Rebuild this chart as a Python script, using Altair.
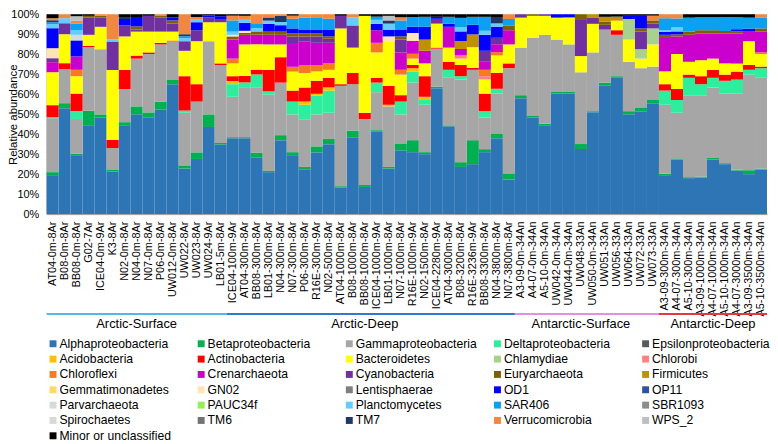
import altair as alt
import pandas as pd

N = 60

def at(d):
    return [d.get(i, 0) for i in range(N)]

samples = [
    "AT04-0m-8Ar", "B08-0m-8Ar", "BB08-0m-8Ar", "G02-7Ar", "ICE04-0m-9Ar", "K3-8Ar", "N02-0m-8Ar",
    "N04-0m-8Ar", "N07-0m-8Ar", "P06-0m-8Ar", "UW012-0m-8Ar", "UW022-8Ar", "UW023-8Ar", "UW024-9Ar",
    "LB01-5m-8Ar",
    "ICE04-100m-9Ar", "AT04-300m-8Ar", "BB08-300m-8Ar", "LB01-300m-8Ar", "N04-300m-8Ar", "N07-300m-8Ar",
    "P06-300m-8Ar", "R16E-300m-9Ar", "N02-500m-8Ar", "AT04-1000m-8Ar", "B08-1000m-8Ar", "BB08-1000m-8Ar",
    "ICE04-1000m-9Ar", "LB01-1000m-8Ar", "N07-1000m-8Ar", "R16E-1000m-9Ar", "N02-1500m-8Ar",
    "ICE04-2280m-9Ar", "AT04-3000m-8Ar", "B08-3200m-8Ar", "R16E-3236m-9Ar", "BB08-3300m-8Ar",
    "N04-3800m-8Ar", "N07-3800m-8Ar",
    "A3-09-0m-34An", "A4-07-0m-34An", "A5-10-0m-34An", "UW042-0m-34An", "UW044-0m-34An", "UW048-33An",
    "UW050-0m-34An", "UW051-33An", "UW056-33An", "UW064-33An", "UW072-33An", "UW073-33An",
    "A3-09-300m-34An", "A4-07-300m-34An", "A5-10-300m-34An", "A3-09-1000m-34An", "A4-07-1000m-34An",
    "A5-10-1000m-34An", "A4-07-3000m-34An", "A3-09-3500m-34An", "A5-10-3500m-34An",
]

alpha = [19.5, 53, 29.5, 44.4, 48.3, 21.3, 44.4, 49.9, 48.5, 52.3, 65, 22.8, 27.6, 43.6, 34.8,
         38, 38, 28.4, 21, 37, 29.5, 22.5, 30.9, 35, 13.2, 38.5, 13.6, 41.5, 22.8, 32, 31, 30, 63, 44,
         23.6, 25, 31, 38, 17.3,
         58, 48.3, 44.4, 60.3, 60.3, 32, 51, 64.2, 68.2, 50, 51.5, 55.5,
         19.5, 27.3, 18, 18.3, 27.3, 25, 21.8, 20, 22.3]
beta = [1.5, 2.5, 0.8, 7.4, 1.6, 0.8, 1.6, 4, 2.4, 4, 2.1, 1.6, 3.3, 6.3, 0.8,
        0.5, 0.5, 2.4, 0.6, 2.5, 1.5, 1.1, 3, 2.6, 0.8, 3.3, 1, 0.5, 0.8, 3.4, 6, 1, 0.8, 0.4, 2.4,
        12, 1.5, 2.4, 3.1,
        1.5, 0.8, 0.8, 0.8, 0.8, 2.5, 0.5, 1.6, 0.8, 1.5, 1.6, 1.6,
        0.7, 0.6, 0.5, 0.5, 0.8, 0.5, 0.5, 2, 0.5]
gamma = [27, 17, 17.3, 31.8, 32.6, 11, 16.6, 23.9, 29.2, 28.6, 19.4, 26.3, 25.4, 36.6, 39,
         20.2, 25, 32.6, 38.2, 26.3, 18.9, 23.9, 16, 13.1, 50.2, 23.2, 32.9, 19, 30.3, 14.5, 28.8, 23.7,
         19, 23.8, 41.4, 35.2, 15.8, 19.9, 52.6,
         23.8, 39, 44.5, 26.2, 23.8, 35.3, 29.4, 26.5, 20.7, 24.7, 19.9, 16.7,
         34.5, 22.8, 41, 40.7, 35.3, 34.8, 38, 47.8, 45.4]
delta = at({0: 0.5, 2: 4, 11: 1.1, 15: 6.3, 16: 2.4, 17: 6.4, 18: 1.6, 20: 6.4, 21: 7.2, 22: 9.5,
            23: 11.1, 27: 4.8, 29: 6.4, 30: 5.6, 31: 2.4, 33: 4, 34: 1.6, 36: 3.2, 37: 2.4,
            51: 7.1, 52: 6.4, 53: 8.7, 54: 5.5, 55: 4.8, 56: 6.4, 57: 7, 58: 2.4, 59: 4.8})
epsilon = at({})
acido = at({15: 1.6, 21: 1.6, 22: 0.8, 23: 1.6, 28: 0.8, 30: 1.6, 31: 1.6})
actino = [6, 3, 8.7, 0.5, 0, 4, 9.6, 1.5, 0.8, 0.8, 0.3, 17.2, 8.7, 0, 0.8,
          2.4, 3.2, 2.4, 10.8, 12.7, 5.5, 7.1, 6.5, 4.8, 0.8, 5.6, 3.2, 2.4, 9.5, 3.2, 1.6, 10.3, 0.5,
          4, 5.6, 1, 8.8, 8, 2.4,
          0, 0, 0, 0, 0, 0, 0, 0, 2.3, 0, 0, 0,
          3.2, 5.5, 1.6, 4, 4, 3.1, 4, 2.4, 0.8]
bacteroidetes = [16.5, 14.5, 8.7, 5.6, 11.2, 35, 16.7, 12, 10.4, 5.6, 4.5, 12.7, 21.5, 9.5, 20.6,
                 6.4, 15.8, 12.7, 12.7, 6.4, 9.5, 7.2, 4.7, 4, 27.9, 12.7, 48.5, 12.7, 22.3, 10.3, 3.2,
                 6.4, 12, 7.1, 3.2, 10.3, 7.1, 8.7, 9.5,
                 15, 11.1, 9.5, 11, 13.5, 8, 14.3, 0, 4.8, 11.1, 4.8, 11.1,
                 6.4, 17.5, 6.4, 8, 5.6, 5.6, 4, 11.9, 6.3]
chlamydiae = at({48: 10.3, 49: 4.7, 50: 8})
chlorobi = at({34: 1.6, 36: 1.6})
chloroflexi = at({2: 3.2, 15: 2.4, 20: 2.4, 21: 4, 22: 3.2, 23: 3.2, 27: 4.8, 29: 2.4, 30: 2.4,
                  36: 3.2, 37: 1.6, 59: 0.8})
crenarchaeota = at({0: 5, 2: 6.7, 15: 9.5, 16: 4.8, 17: 4.8, 18: 4.8, 19: 4.8, 20: 11.9, 21: 11.9,
                    22: 11.1, 23: 10.3, 27: 6.3, 29: 8.7, 30: 6.4, 31: 6.3, 33: 10.4, 34: 3.2, 36: 4,
                    37: 4, 38: 7.1, 51: 16.7, 52: 8.8, 53: 13.5, 54: 13.4, 55: 12.6, 56: 15, 57: 15,
                    58: 4.8, 59: 10.4})
cyanobacteria = at({0: 2, 1: 5.5, 3: 8.7, 4: 4.7, 5: 14.3, 6: 5.5, 7: 1, 8: 7.9, 9: 7.1, 10: 4,
                    11: 4.8, 12: 5.5, 13: 2.4, 14: 1.6, 20: 3.3, 21: 2.4, 22: 3.2, 23: 2, 24: 6.3,
                    25: 11.1, 29: 6.4, 32: 2.4, 36: 5.5, 37: 3.2, 39: 1.7, 41: 0.8, 44: 18.2, 45: 3.2,
                    46: 2.4, 49: 8.8, 50: 2.4})
euryarchaeota = at({3: 0.8, 4: 0.8, 7: 1.6, 9: 1, 10: 1.6, 15: 1.6, 16: 1, 17: 1.6, 18: 1.6, 19: 1.6,
                    20: 1.6, 21: 1.6, 22: 1.6, 23: 1.2, 29: 1.6, 38: 2.4, 40: 0.8, 44: 2.4, 46: 1.6,
                    49: 1.6, 50: 1.6, 51: 1.6, 52: 1, 53: 1.6, 54: 1.6, 55: 1.6, 56: 1.2, 57: 1.2,
                    59: 1.6})
firmicutes = at({31: 5.6, 34: 4, 35: 6.4, 45: 1.6, 46: 2.4, 47: 2})
gemmatimonadetes = at({})
gn02 = at({0: 5, 15: 0.8, 16: 1, 28: 2.4, 30: 4})
lentisphaerae = at({})
od1 = at({0: 10, 2: 8, 6: 3.2, 7: 4.7, 10: 1.5, 12: 4, 13: 1, 14: 1.4, 16: 4, 18: 3.9, 19: 3.2,
          20: 2.4, 21: 1.6, 22: 1.6, 23: 3.2, 27: 3.2, 28: 3.2, 29: 3.2, 30: 3.2, 31: 6.4, 32: 1,
          33: 1.5, 34: 4.8, 35: 4.8, 36: 8, 37: 5.6, 42: 1.7, 43: 1.6, 48: 1.6, 49: 6.3, 51: 1.5,
          52: 1.5, 57: 1, 58: 1.5})
op11 = at({})
parvarchaeota = at({2: 2.8})
pauc34f = at({})
planctomycetes = at({0: 2, 1: 2.5, 2: 2.3, 5: 1, 11: 1.5, 12: 1.6, 15: 1.6, 16: 1.5, 17: 1.6, 18: 1.6,
                     19: 1.6, 25: 4, 27: 2, 28: 3.2, 34: 2, 36: 2, 37: 1.6, 51: 0.8, 52: 2})
sar406 = at({0: 1, 2: 3.2, 11: 1, 15: 5.6, 17: 2.5, 20: 4.8, 21: 6.3, 22: 6, 23: 5.6, 27: 1.6,
             29: 4.8, 30: 4.8, 31: 5, 33: 3.5, 34: 4.8, 35: 4, 36: 7, 38: 3.2, 51: 6, 52: 4.5,
             53: 7, 54: 6.5, 55: 6.5, 56: 7, 57: 6, 58: 5.5, 59: 5.5})
sbr1093 = at({})
spirochaetes = at({})
tm6 = at({})
tm7 = at({0: 1, 6: 1, 11: 1, 18: 1.6, 19: 3.2, 28: 1.6, 37: 3.2})
verrucomicrobia = at({0: 1, 1: 2, 2: 1.5, 4: 0.8, 5: 12.6, 9: 0.6, 11: 10, 12: 1, 15: 2.4, 16: 2,
                      17: 4.5, 18: 1.6, 19: 0.7, 20: 1.6, 21: 1.6, 22: 1.9, 23: 2.3, 25: 1.6,
                      29: 1.6, 38: 2.4, 50: 2.4, 51: 2, 52: 2.1, 59: 1.6})
wps2 = at({2: 2.3, 28: 2.3})
minor = at({0: 2, 2: 1, 3: 0.8, 6: 1.4, 7: 1.4, 8: 0.8, 10: 1.6, 12: 1.4, 13: 0.6, 14: 1, 15: 0.7,
            16: 0.8, 20: 0.7, 24: 0.8, 26: 0.8, 27: 1.2, 28: 0.8, 29: 1.5, 30: 1.4, 31: 1.3, 32: 1.3,
            33: 1.3, 34: 1.8, 35: 1.3, 36: 1.3, 37: 1.4, 46: 1.3, 47: 1.2, 48: 0.8, 49: 0.8, 50: 0.7,
            53: 1.7, 54: 1.5, 55: 1.5, 56: 1.4, 57: 1.5, 58: 1.7})

taxa = ["Alphaproteobacteria", "Betaproteobacteria", "Gammaproteobacteria", "Deltaproteobacteria",
        "Epsilonproteobacteria", "Acidobacteria", "Actinobacteria", "Bacteroidetes", "Chlamydiae",
        "Chlorobi", "Chloroflexi", "Crenarchaeota", "Cyanobacteria", "Euryarchaeota", "Firmicutes",
        "Gemmatimonadetes", "GN02", "Lentisphaerae", "OD1", "OP11", "Parvarchaeota", "PAUC34f",
        "Planctomycetes", "SAR406", "SBR1093", "Spirochaetes", "TM6", "TM7", "Verrucomicrobia",
        "WPS_2", "Minor or unclassified"]
series = [alpha, beta, gamma, delta, epsilon, acido, actino, bacteroidetes, chlamydiae, chlorobi,
          chloroflexi, crenarchaeota, cyanobacteria, euryarchaeota, firmicutes, gemmatimonadetes,
          gn02, lentisphaerae, od1, op11, parvarchaeota, pauc34f, planctomycetes, sar406, sbr1093,
          spirochaetes, tm6, tm7, verrucomicrobia, wps2, minor]
colors = ["#2E75B6", "#00B050", "#A6A6A6", "#2EEE9E", "#595959",
          "#FFC000", "#FF0000", "#FFFF00", "#A9D18E", "#FF8080",
          "#F47B20", "#CC00CC", "#7030A0", "#7F6000", "#BF9000",
          "#FFD966", "#FFE4B5", "#7F7F7F", "#0000FF", "#2F5597",
          "#D9D9D9", "#92F050", "#66CCFF", "#0BA0F0", "#8C8C8C",
          "#D9D9D9", "#737373", "#1F3864", "#F08840", "#BFBFBF",
          "#000000"]

groups = ["Arctic-Surface", "Arctic-Deep", "Antarctic-Surface", "Antarctic-Deep"]
group_first = [0, 15, 39, 51]
group_last = [14, 38, 50, 59]
group_label_at = [7, 26, 44, 55]
group_colors = ["#5AB4E5", "#3478C8", "#E48FE3", "#E03A3A"]

LEGEND_COLUMNS = 5

rows = []
for k, (t, vals) in enumerate(zip(taxa, series)):
    for s, v in zip(samples, vals):
        rows.append({"sample": s, "taxon": t, "value": v, "k": k})
df = pd.DataFrame(rows)

gdf = pd.DataFrame({
    "group": groups,
    "start": [samples[i] for i in group_first],
    "end": [samples[i] for i in group_last],
    "mid": [samples[i] for i in group_label_at],
    "col": group_colors,
})

ldf = pd.DataFrame({
    "taxon": taxa,
    "lcol": [i % LEGEND_COLUMNS for i in range(len(taxa))],
    "lrow": [i // LEGEND_COLUMNS for i in range(len(taxa))],
})

FONT = "Liberation Sans"
xscale = alt.Scale(domain=samples, paddingInner=0, paddingOuter=0)
cscale = alt.Scale(domain=taxa, range=colors)
xaxis = alt.Axis(labelAngle=-90, labelFontSize=11, labelFont=FONT, labelColor="#000",
                 ticks=False, labelPadding=7, domainColor="#999", labelLimit=200,
                 labelOverlap=False, title=None)

bars = alt.Chart(df).mark_bar(strokeWidth=0).encode(
    x=alt.X("sample:N", sort=samples, scale=xscale, axis=xaxis),
    y=alt.Y("value:Q", stack="normalize", title="Relative abundance",
            scale=alt.Scale(domain=[0, 1], nice=False),
            axis=alt.Axis(values=[i / 10 for i in range(11)], format=".0%", labelFontSize=11,
                          labelFont=FONT, labelColor="#000", grid=False, ticks=False,
                          labelPadding=8, domainColor="#999", titleFont=FONT, titleFontSize=11.5,
                          titleFontWeight="normal", titleColor="#000", titleX=-33.5, titleY=101,
                          titleAngle=270, titleBaseline="middle", titleAlign="center")),
    color=alt.Color("taxon:N", scale=cscale, legend=None),
    order=alt.Order("k:Q", sort="ascending"),
)

rules = alt.Chart(gdf).mark_rule(strokeWidth=2).encode(
    x=alt.X("start:N", bandPosition=0, scale=xscale, axis=None),
    x2=alt.X2("end:N", bandPosition=1),
    y=alt.value(303),
    stroke=alt.Stroke("col:N", scale=None),
)

labels = alt.Chart(gdf).mark_text(fontSize=13, font=FONT, color="#000", baseline="middle",
                                  align="center").encode(
    x=alt.X("mid:N", scale=xscale, axis=None),
    y=alt.value(313),
    text="group:N",
)

lx = alt.X("lcol:Q", scale=alt.Scale(domain=[0, 5], range=[6.5, 6.5 + 5 * 149.7]), axis=None)
ly = alt.Y("lrow:Q", scale=alt.Scale(domain=[0, 7], range=[333, 333 + 7 * 15.5]), axis=None)

leg_sq = alt.Chart(ldf).mark_square(size=49, opacity=1).encode(
    x=lx, y=ly, color=alt.Color("taxon:N", scale=cscale, legend=None),
)
leg_tx = alt.Chart(ldf).mark_text(align="left", baseline="middle", dx=6.5, fontSize=12.3,
                                  font=FONT, color="#000").encode(
    x=lx, y=ly, text="taxon:N",
)

chart = alt.layer(bars, rules, labels, leg_sq, leg_tx).resolve_scale(
    x="independent", y="independent"
).properties(
    width=728, height=202,
    autosize=alt.AutoSizeParams(type="none"),
    padding={"left": 39, "top": 4, "right": 3, "bottom": 230},
).configure_view(stroke=None)

chart.save("out.html", embed_options={"renderer": "svg", "actions": False})
